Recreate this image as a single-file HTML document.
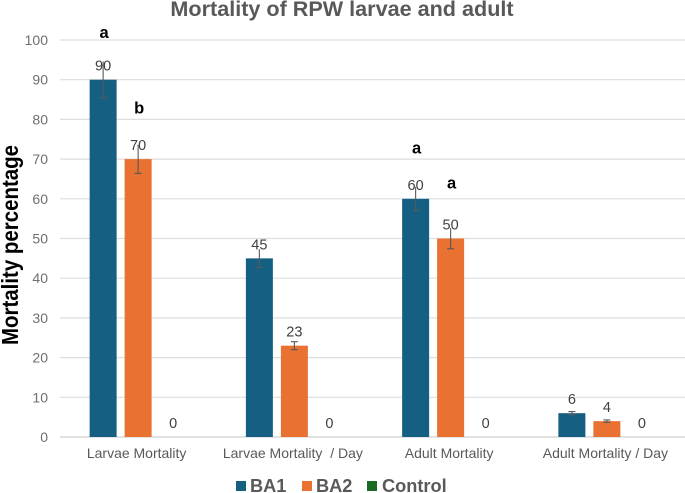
<!DOCTYPE html>
<html lang="en">
<head>
<meta charset="utf-8">
<title>Mortality of RPW larvae and adult</title>
<style>
html,body{margin:0;padding:0;background:#fff;}
body{width:685px;height:493px;overflow:hidden;}
svg{display:block;font-family:"Liberation Sans",Arial,sans-serif;}
</style>
</head>
<body>
<svg id="chart" width="685" height="493" viewBox="0 0 685 493" xmlns="http://www.w3.org/2000/svg"></svg>
<script>
const categories = ['Larvae Mortality', 'Larvae Mortality  / Day', 'Adult Mortality', 'Adult Mortality / Day'];
const seriesNames = ['BA1', 'BA2', 'Control'];
const ba1Values = [90, 45, 60, 6];
const ba2Values = [70, 23, 50, 4];
const controlValues = [0, 0, 0, 0];
const ba1Errors = [4.6, 2.3, 3, 0.4];
const ba2Errors = [3.6, 1, 2.6, 0.3];
const yTicks = [0, 10, 20, 30, 40, 50, 60, 70, 80, 90, 100];
const ba1Letters = ['a', '', 'a', ''];
const ba2Letters = ['b', '', 'a', ''];

const svgNS = 'http://www.w3.org/2000/svg';
const svg = document.getElementById('chart');
const colors = ['#156082', '#E97132', '#196B24'];
const plotLeft = 60, plotRight = 685, plotTop = 40, plotBottom = 437;
const yMax = 100;
function yScale(v){ return plotBottom - (v / yMax) * (plotBottom - plotTop); }
function xCenter(i){ return plotLeft + (i + 0.5) * (plotRight - plotLeft) / categories.length; }
const barOffset = 35, barWidth = 27;
/* layout: vertical gap between a bar top and its significance letter, per series and category */
const letterGaps = [[41.5, 0, 45.5, 0], [45.5, 0, 50, 0]];
function mk(tag, attrs, text){
  const el = document.createElementNS(svgNS, tag);
  for (const k in attrs) el.setAttribute(k, attrs[k]);
  if (text !== undefined) el.textContent = text;
  svg.appendChild(el);
  return el;
}

const title = mk('text', {x: 342, y: 16, 'text-anchor': 'middle', 'font-size': 21.6, 'font-weight': 'bold', fill: '#595959'}, 'Mortality of RPW larvae and adult');



yTicks.forEach(function(t){
  const g = mk('line', {x1: plotLeft, x2: plotRight, y1: yScale(t), y2: yScale(t), stroke: t === 0 ? '#d0d0d0' : '#dedede', 'stroke-width': 1.2});
  
  
  const l = mk('text', {x: 48, y: yScale(t) + 5, 'text-anchor': 'end', 'font-size': 14, fill: '#6f6f6f'}, String(t));
  
  
});

const yTitle = mk('text', {transform: 'translate(18,245) rotate(-90)', 'text-anchor': 'middle', 'font-size': 23, textLength: 200, lengthAdjust: 'spacingAndGlyphs', 'font-weight': 'bold', fill: '#000'}, 'Mortality percentage');



const allSeries = [ba1Values, ba2Values, controlValues];
const allErrors = [ba1Errors, ba2Errors, null];
const allLetters = [ba1Letters, ba2Letters, null];

categories.forEach(function(cat, i){
  const cx = xCenter(i);
  allSeries.forEach(function(vals, s){
    const x = cx + (s - 1) * barOffset;
    const v = vals[i];
    const top = yScale(v);
    if (v > 0) {
      const r = mk('rect', {x: x - barWidth / 2, y: top, width: barWidth, height: plotBottom - top, fill: colors[s]});
      
      
    }
    const err = allErrors[s] ? allErrors[s][i] : 0;
    if (err > 0) {
      const y1 = yScale(v + err), y2 = yScale(v - err);
      const topCap = err < 2 ? 'M' + (x - 3.5) + ' ' + y1 + 'H' + (x + 3.5) : '';
      const eg = mk('path', {d: 'M' + x + ' ' + y1 + 'V' + y2 + topCap + 'M' + (x - 3.5) + ' ' + y2 + 'H' + (x + 3.5), stroke: '#595959', 'stroke-width': 1.1, fill: 'none'});
      
      
    }
    const lab = mk('text', {x: x, y: top - 9, 'text-anchor': 'middle', 'font-size': 14.5, fill: '#404040'}, String(v));
    
    
    const letter = allLetters[s] ? allLetters[s][i] : '';
    if (letter) {
      const lt = mk('text', {x: x + 1, y: top - letterGaps[s][i], 'text-anchor': 'middle', 'font-size': 16.5, 'font-weight': 'bold', fill: '#000'}, letter);
      
      
    }
  });
  const cl = mk('text', {x: cx - 1.5, y: 458, 'text-anchor': 'middle', 'font-size': 14, fill: '#595959', style: 'white-space:pre'}, cat);
  
  
});

const legendSwatchX = [236, 302, 367];
const legendTextX = [250, 316, 382];
seriesNames.forEach(function(name, s){
  const sw = mk('rect', {x: legendSwatchX[s], y: 481, width: 10, height: 10, fill: colors[s]});
  
  
  const tx = mk('text', {x: legendTextX[s], y: 492, 'font-size': 18.2, 'font-weight': 'bold', fill: '#595959'}, name);
  
  
});
</script>
</body>
</html>
